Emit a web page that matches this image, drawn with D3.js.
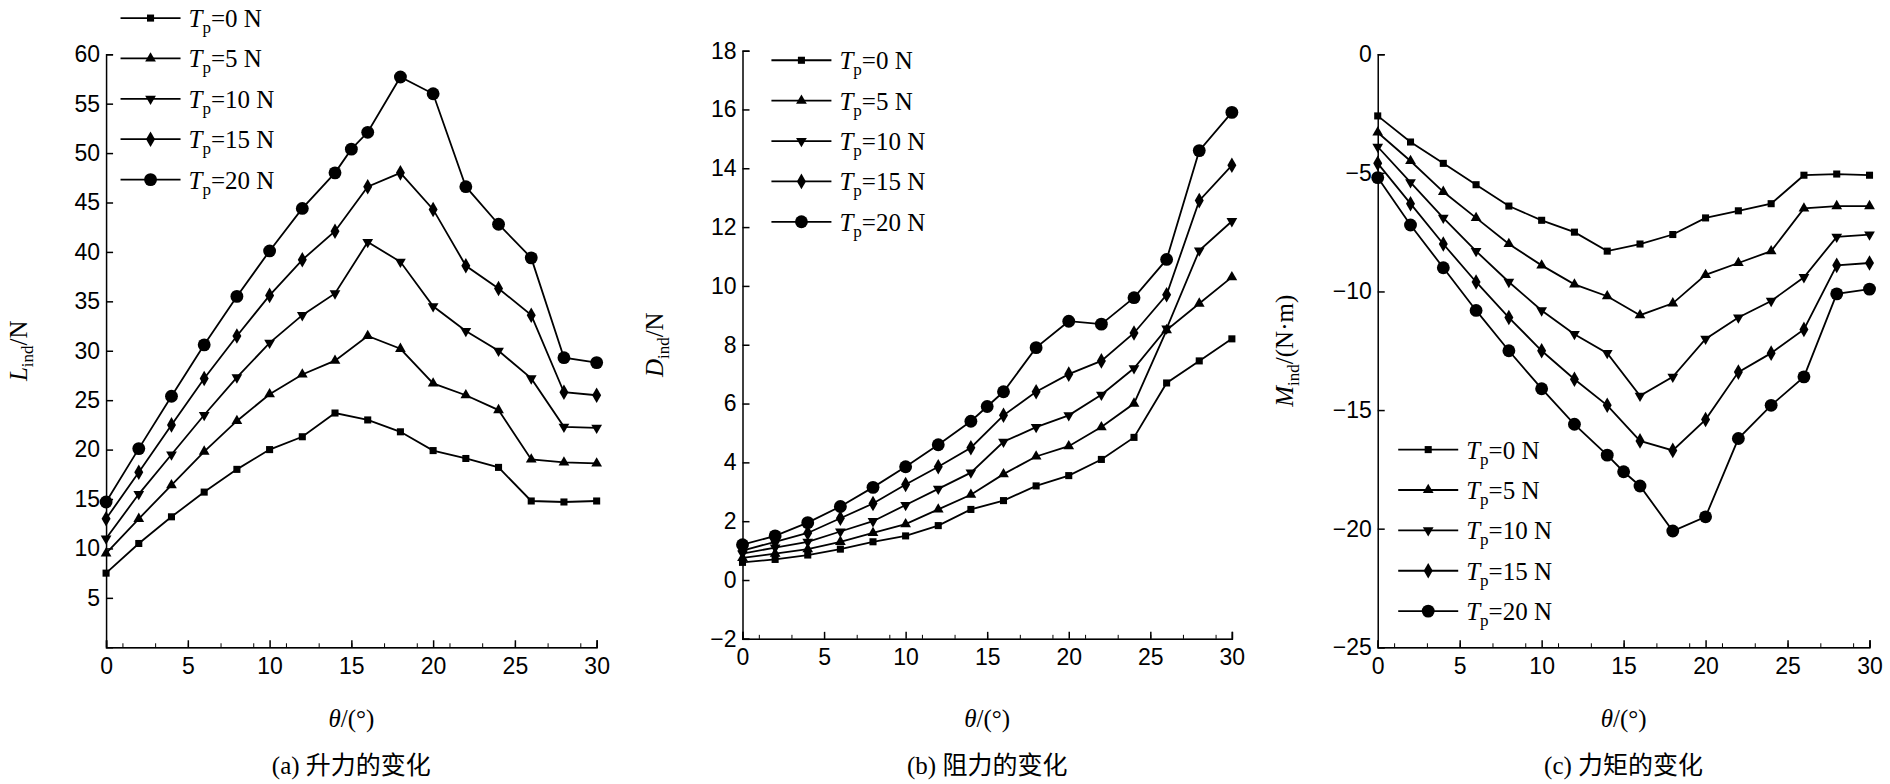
<!DOCTYPE html>
<html><head><meta charset="utf-8">
<script src="https://cdn.jsdelivr.net/npm/d3@7"></script>
<style>body{margin:0;background:#fff}svg{font-family:"Liberation Serif","Noto Sans CJK SC",serif}</style>
</head><body><svg id="c" width="1890" height="784"></svg>
<script>
const theta = [0,2,4,6,8,10,12,14,16,18,20,22,24,26,28,30];
const theta20 = [0,2,4,6,8,10,12,14,15,16,18,20,22,24,26,28,30];
const legendLabels = ["0","5","10","15","20"];
const markers = [d3.symbolSquare, d3.symbolTriangle, "tri-down", d3.symbolDiamond, d3.symbolCircle];

const liftA = [
 [7.5,10.5,13.2,15.7,18,20,21.3,23.7,23,21.8,19.9,19.1,18.2,14.8,14.7,14.8],
 [9.5,13,16.4,19.8,22.9,25.6,27.6,29,31.5,30.2,26.7,25.5,24,19,18.7,18.6],
 [11,15.5,19.5,23.5,27.3,30.8,33.6,35.8,41,39,34.5,32,30,27.2,22.3,22.2],
 [13,17.7,22.5,27.2,31.5,35.6,39.2,42.1,46.6,48,44.3,38.6,36.3,33.6,25.8,25.5],
 [14.7,20.1,25.4,30.6,35.5,40.1,44.4,48,50.4,52.1,57.7,56,46.6,42.8,39.4,29.3,28.8]];
const dragB = [
 [0.6,0.7,0.85,1.05,1.3,1.5,1.85,2.4,2.7,3.2,3.55,4.1,4.85,6.7,7.45,8.2],
 [0.75,0.9,1.05,1.3,1.6,1.9,2.4,2.9,3.6,4.2,4.55,5.2,6.0,8.5,9.4,10.3],
 [0.9,1.1,1.3,1.65,2.0,2.55,3.1,3.65,4.7,5.2,5.6,6.3,7.2,8.55,11.2,12.2],
 [1.0,1.3,1.6,2.1,2.6,3.25,3.85,4.5,5.6,6.4,7.0,7.45,8.4,9.7,12.9,14.1],
 [1.2,1.5,1.95,2.5,3.15,3.85,4.6,5.4,5.9,6.4,7.9,8.8,8.7,9.6,10.9,14.6,15.9]];
const momentC = [
 [-2.6,-3.7,-4.6,-5.5,-6.4,-7,-7.5,-8.3,-8,-7.6,-6.9,-6.6,-6.3,-5.1,-5.05,-5.1],
 [-3.3,-4.5,-5.8,-6.9,-8,-8.9,-9.7,-10.2,-11,-10.5,-9.3,-8.8,-8.3,-6.5,-6.4,-6.4],
 [-3.9,-5.4,-6.9,-8.3,-9.6,-10.8,-11.8,-12.6,-14.4,-13.6,-12,-11.1,-10.4,-9.4,-7.7,-7.6],
 [-4.6,-6.3,-8,-9.6,-11.1,-12.5,-13.7,-14.8,-16.3,-16.7,-15.4,-13.4,-12.6,-11.6,-8.9,-8.8],
 [-5.2,-7.2,-9,-10.8,-12.5,-14.1,-15.6,-16.9,-17.6,-18.2,-20.1,-19.5,-16.2,-14.8,-13.6,-10.1,-9.9]];

const s = 1890/1568;
const svg = d3.select("#c");
const panels = [
 {data:liftA, x0:88,x1:495,yTop:45,yBot:537,dom:[0,60],ticks:d3.range(5,61,5),ylab:["L","ind","/N"],cap:"(a) 升力的变化",leg:[100,15],ylx:22},
 {data:dragB, x0:616,x1:1022,yTop:42,yBot:530,dom:[-2,18],ticks:d3.range(-2,19,2),ylab:["D","ind","/N"],cap:"(b) 阻力的变化",leg:[640,50],ylx:550},
 {data:momentC, x0:1143,x1:1551,yTop:45,yBot:537,dom:[-25,0],ticks:d3.range(-25,1,5),ylab:["M","ind","/(N·m)"],cap:"(c) 力矩的变化",leg:[1160,373],ylx:1073}
];
function sym(i,size){
  if(markers[i]==="tri-down") return d3.symbol(d3.symbolTriangle,size)();
  return d3.symbol(markers[i],size)();
}
panels.forEach(p=>{
  const g = svg.append("g");
  const x = d3.scaleLinear().domain([0,30]).range([p.x0*s,p.x1*s]);
  const y = d3.scaleLinear().domain(p.dom).range([p.yBot*s,p.yTop*s]);
  const ax = g.append("g").attr("transform",`translate(0,${p.yBot*s})`).call(d3.axisBottom(x).tickValues(d3.range(0,31,5)).tickSize(-7).tickPadding(10));
  const ay = g.append("g").attr("transform",`translate(${p.x0*s},0)`).call(d3.axisLeft(y).tickValues(p.ticks).tickSize(-7).tickPadding(6));
  // minor ticks
  g.append("g").attr("transform",`translate(0,${p.yBot*s})`).call(d3.axisBottom(x).tickValues(d3.range(1,30,2).map(v=>v)).tickSize(-4).tickFormat(""));
  [ax,ay].forEach(a=>{a.selectAll("text").attr("font-size",23).attr("fill","#000").style("font-family","Liberation Sans, Arial");a.selectAll("line,path").attr("stroke","#000").attr("stroke-width",1.5);});
  g.selectAll(".domain").attr("stroke","#000");
  g.selectAll("g line").attr("stroke","#000");
  const line = d3.line().x(d=>x(d[0])).y(d=>y(d[1]));
  p.data.forEach((vals,i)=>{
    const xs = vals.length===17?theta20:theta;
    const pts = vals.map((v,j)=>[xs[j],v]);
    g.append("path").attr("d",line(pts)).attr("fill","none").attr("stroke","#000").attr("stroke-width",1.8);
    const sz = i===4?130:(i===3?70:50);
    g.selectAll(null).data(pts).join("path").attr("d",sym(i,sz))
     .attr("transform",d=>`translate(${x(d[0])},${y(d[1])})${markers[i]==="tri-down"?" rotate(180)":""}`).attr("fill","#000");
  });
  // legend
  legendLabels.forEach((lab,i)=>{
    const ly = (p.leg[1]+i*33.5)*s, lx=p.leg[0]*s;
    g.append("line").attr("x1",lx).attr("x2",lx+60).attr("y1",ly).attr("y2",ly).attr("stroke","#000").attr("stroke-width",1.8);
    const sz = i===4?130:(i===3?70:50);
    g.append("path").attr("d",sym(i,sz)).attr("transform",`translate(${lx+30},${ly})${markers[i]==="tri-down"?" rotate(180)":""}`);
    const t = g.append("text").attr("x",lx+68).attr("y",ly+9).attr("font-size",25);
    t.append("tspan").attr("font-style","italic").text("T");
    t.append("tspan").attr("font-size",17).attr("dy",6).text("p");
    t.append("tspan").attr("dy",-6).text("="+lab+" N");
  });
  // y label
  const yl = g.append("text").attr("transform",`translate(${p.ylx*s},${(p.yTop+p.yBot)/2*s}) rotate(-90)`).attr("text-anchor","middle").attr("font-size",25);
  yl.append("tspan").attr("font-style","italic").text(p.ylab[0]);
  yl.append("tspan").attr("font-size",17).attr("dy",6).text(p.ylab[1]);
  yl.append("tspan").attr("dy",-6).text(p.ylab[2]);
  const xl = g.append("text").attr("x",(p.x0+p.x1)/2*s).attr("y",603*s).attr("text-anchor","middle").attr("font-size",25);
  xl.append("tspan").attr("font-style","italic").text("θ");
  xl.append("tspan").text("/(°)");
  g.append("text").attr("x",(p.x0+p.x1)/2*s).attr("y",642*s).attr("text-anchor","middle").attr("font-size",25).text(p.cap);
});
</script></body></html>
